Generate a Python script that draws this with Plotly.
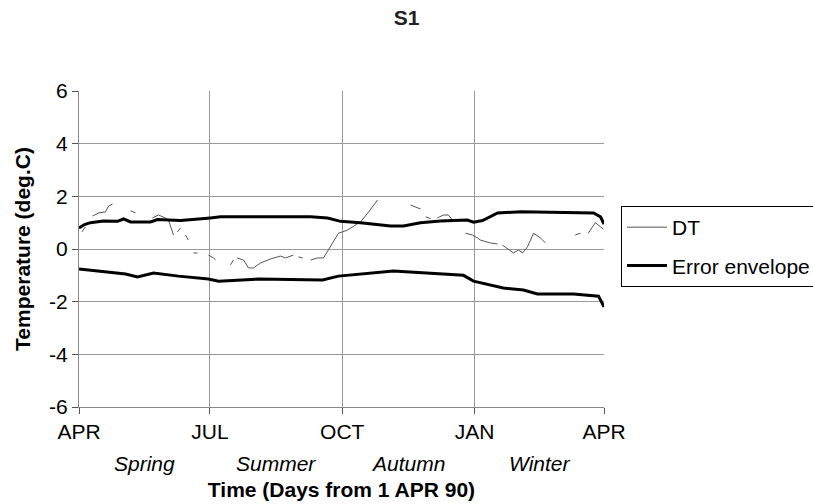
import plotly.graph_objects as go

# ---- data (days from 1 APR 90) ----
tick_days = [0, 91, 183, 275, 365]
tick_labels = ["APR", "JUL", "OCT", "JAN", "APR"]
y_ticks = [-6, -4, -2, 0, 2, 4, 6]
y_tick_labels = ["-6", "-4", "-2", "0", "2", "4", "6"]
seasons = ["Spring", "Summer", "Autumn", "Winter"]

# DT record (None = missing data -> gaps)
dt_days = [2, 4.5, None,
           9.4, 13.6, 18.4, 20.5, 23.3, None,
           35.8, 39.3, None,
           51, 55.3, 60, 62.2, 65.7, None,
           68.5, 70.6, None,
           74, 76, None,
           79.6, 82.4, None,
           90, 93.5, 95, None,
           105.3, 107.4, None,
           110, 114.4, 117.8, 121.3, 126.2, 133, 140, 143.6, 149, None,
           152.6, 155.4, None,
           161, 165.8, 170, 173.5, 177, 180.4, 183.2, 186.7, 195.7, 201.3, 207.5, None,
           230.5, 234, 237.4, None,
           241, 244.5, None,
           249.2, 253.3, 256.8, 259.6, None,
           268.7, 273.6, 277, 279, 286, 291, None,
           294.4, 298, 302, 305.6, 308.4, 311.8, 316, 320.8, 324.3, None,
           345, 348.6, None,
           354, 359, 362.6, 364.6]
dt_vals = [0.65, 0.84, None,
           1.25, 1.37, 1.41, 1.63, 1.71, None,
           1.45, 1.37, None,
           1.18, 1.29, 1.18, 1.10, 0.53, None,
           0.65, 0.80, None,
           0.53, 0.34, None,
           -0.15, -0.15, None,
           -0.23, -0.34, -0.42, None,
           -0.60, -0.42, None,
           -0.34, -0.42, -0.72, -0.72, -0.53, -0.38, -0.27, -0.34, -0.23, None,
           -0.30, -0.34, None,
           -0.42, -0.34, -0.34, -0.04, 0.27, 0.60, 0.65, 0.72, 1.03, 1.40, 1.86, None,
           1.67, 1.60, 1.52, None,
           1.22, 1.15, None,
           1.18, 1.29, 1.29, 1.10, None,
           0.60, 0.53, 0.42, 0.34, 0.23, 0.19, None,
           0.15, 0.00, -0.15, -0.04, -0.15, 0.08, 0.60, 0.42, 0.23, None,
           0.53, 0.60, None,
           0.60, 1.00, 0.84, 0.75]

env_up_days = [0, 3.8, 8, 17, 26.8, 31, 35.8, 49.7, 54.6, 70.6, 91.4, 98.4, 161, 172.8,
               181.8, 195.7, 216.6, 225.6, 237.4, 251.3, 270, 274.3, 280.6, 291, 307,
               357.8, 362.6, 365]
env_up = [0.80, 0.93, 1.00, 1.06, 1.05, 1.14, 1.03, 1.03, 1.12, 1.08, 1.18, 1.22, 1.22, 1.18,
          1.05, 1.00, 0.87, 0.87, 1.00, 1.06, 1.10, 1.02, 1.08, 1.37, 1.41,
          1.37, 1.22, 0.95]
env_lo_days = [0, 32.4, 40.7, 51.8, 69.2, 90, 97, 124.8, 169.3, 180.4, 218.6, 251.3, 267.3,
               274.3, 295, 309, 318.7, 343.8, 361.2, 365]
env_lo = [-0.76, -0.95, -1.06, -0.91, -1.03, -1.14, -1.22, -1.14, -1.18, -1.03, -0.84, -0.95,
          -1.00, -1.22, -1.48, -1.56, -1.71, -1.71, -1.79, -2.20]

FONT = "Liberation Sans, Arial, sans-serif"
FS = 21

fig = go.Figure()
fig.add_trace(go.Scatter(
    x=dt_days, y=dt_vals, mode="lines", name="DT",
    line=dict(color="#555555", width=1), connectgaps=False,
    legendgroup="a"))
fig.add_trace(go.Scatter(
    x=env_up_days + [None] + env_lo_days, y=env_up + [None] + env_lo,
    mode="lines", name="Error envelope",
    line=dict(color="black", width=3), connectgaps=False,
    legendgroup="b"))

# season labels at quarter midpoints
for i, s in enumerate(seasons):
    fig.add_annotation(
        x=(tick_days[i] + tick_days[i + 1]) / 2, y=0, xref="x", yref="paper",
        text=f"<i>{s}</i>", showarrow=False, yanchor="middle", yshift=-56,
        font=dict(family=FONT, size=FS, color="black"))

fig.update_layout(
    width=813, height=504,
    margin=dict(l=79, r=209, t=91, b=97, autoexpand=False),
    paper_bgcolor="white", plot_bgcolor="white",
    font=dict(family=FONT, size=FS, color="black"),
    title=dict(text="<b>S1</b>", x=0.5, xanchor="center", y=1 - 18 / 504,
               yanchor="middle", font=dict(family=FONT, size=FS, color="#222")),
    showlegend=True,
    legend=dict(x=1.0324, xanchor="left", y=0.636, yanchor="top",
                bordercolor="black", borderwidth=1, bgcolor="white",
                traceorder="grouped", tracegroupgap=8, itemwidth=40,
                font=dict(family=FONT, size=FS, color="black")),
)
fig.update_xaxes(
    range=[0, 365], tickmode="array", tickvals=tick_days, ticktext=tick_labels,
    showgrid=True, gridcolor="#999999", gridwidth=1,
    showline=True, linecolor="#888888", linewidth=1,
    ticks="outside", ticklen=6, tickcolor="#555", zeroline=False,
    title=dict(text="<b>Time (Days from 1 APR 90)</b>", standoff=40,
               font=dict(family=FONT, size=FS)))
fig.update_yaxes(
    range=[-6, 6], tickmode="array", tickvals=y_ticks, ticktext=y_tick_labels,
    showgrid=True, gridcolor="#999999", gridwidth=1,
    showline=True, linecolor="#888888", linewidth=1,
    ticks="outside", ticklen=6, tickcolor="#555", zeroline=False,
    title=dict(text="<b>Temperature (deg.C)</b>", standoff=12,
               font=dict(family=FONT, size=FS)))

fig.write_html("out.html")
